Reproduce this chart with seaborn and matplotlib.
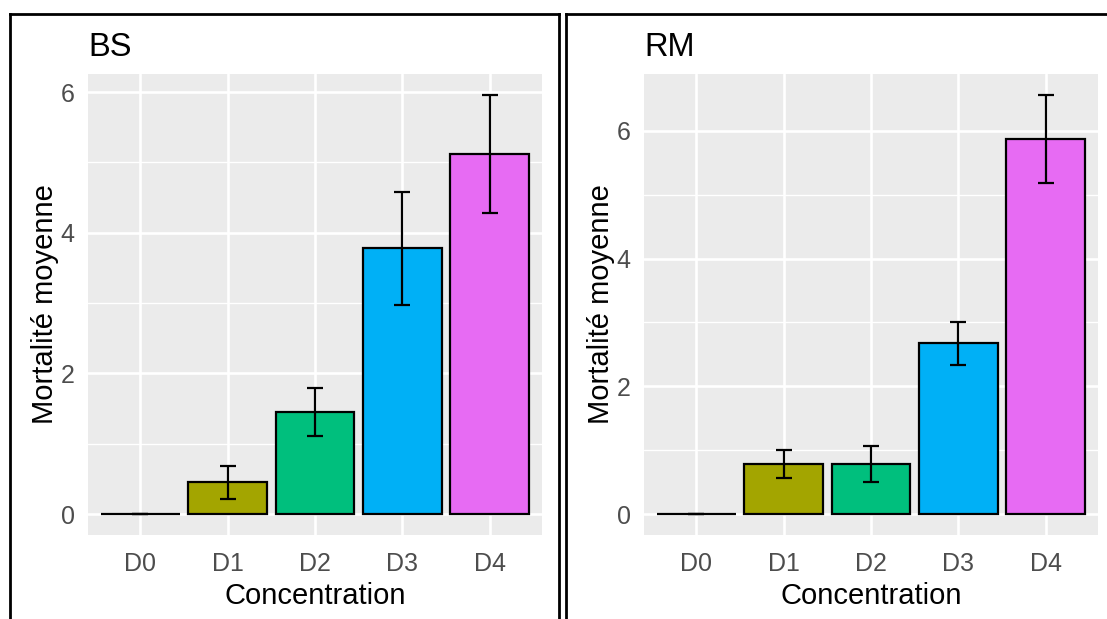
import numpy as np
import pandas as pd
import matplotlib
matplotlib.use("Agg")
import matplotlib.pyplot as plt
from matplotlib.lines import Line2D
from matplotlib.ticker import FixedLocator
import seaborn as sns

# ---- data ----
concentrations = ["D0", "D1", "D2", "D3", "D4"]
bs_mean = [0.0, 0.45, 1.45, 3.78, 5.12]
bs_err = [0.0, 0.23, 0.34, 0.80, 0.84]
rm_mean = [0.0, 0.78, 0.78, 2.67, 5.87]
rm_err = [0.0, 0.22, 0.28, 0.34, 0.69]
panel_titles = ["BS", "RM"]
y_major = [0, 2, 4, 6]
y_minor = [1, 3, 5]
colors = ["#F8766D", "#A3A500", "#00BF7D", "#00B0F6", "#E76BF3"]
x_label = "Concentration"
y_label = "Mortalité moyenne"

sns.set_style("darkgrid", rc={"axes.facecolor": "#EBEBEB", "grid.color": "white"})
plt.rcParams["font.family"] = ["Liberation Sans", "DejaVu Sans"]

W, H = 1107, 619
fig = plt.figure(figsize=(W / 100, H / 100), dpi=100)
fig.patch.set_facecolor("white")

ax_left = fig.add_axes([88 / W, 1 - 535 / H, 454 / W, 461 / H])
ax_right = fig.add_axes([644 / W, 1 - 535 / H, 454 / W, 461 / H])


def draw(ax, means, errs, title):
    df = pd.DataFrame({"Concentration": concentrations, "mean": means, "err": errs})
    ax.set_axisbelow(True)
    sns.barplot(data=df, x="Concentration", y="mean", hue="Concentration",
                order=concentrations, hue_order=concentrations, palette=colors,
                legend=False, errorbar=None, width=0.9, edgecolor="black",
                linewidth=1.6, saturation=1, ax=ax, zorder=3)
    xpos = ax.get_xticks()
    ax.errorbar(x=xpos, y=df["mean"], yerr=df["err"], fmt="none", ecolor="black",
                elinewidth=1.6, capsize=6.1, capthick=1.6, zorder=4)
    top = max(m + e for m, e in zip(means, errs))
    ax.set_ylim(-0.05 * top, 1.05 * top)
    ax.set_xlim(-0.6, len(concentrations) - 0.4)
    ax.yaxis.set_major_locator(FixedLocator(y_major))
    ax.yaxis.set_minor_locator(FixedLocator(y_minor))
    ax.grid(True, which="major", color="white", linewidth=1.9)
    ax.grid(True, which="minor", axis="y", color="white", linewidth=1.0)
    ax.grid(False, which="minor", axis="x")
    ax.tick_params(axis="both", which="major", length=5, width=1.4,
                   color="#333333", labelcolor="#4D4D4D", labelsize=18)
    ax.tick_params(axis="x", which="major", pad=7.5)
    ax.tick_params(axis="y", which="major", pad=4.5)
    ax.tick_params(axis="both", which="minor", length=0)
    for s in ax.spines.values():
        s.set_visible(False)
    ax.set_xlabel(x_label, fontsize=21, color="black", labelpad=4)
    ax.set_ylabel(y_label, fontsize=21, color="black", labelpad=1)
    ax.set_title(title, loc="left", fontsize=23.5, color="black", pad=13)


draw(ax_left, bs_mean, bs_err, panel_titles[0])
draw(ax_right, rm_mean, rm_err, panel_titles[1])

# panel frames (screenshot borders)
lw = 2.0
def fline(xs, ys):
    fig.add_artist(Line2D([x / W for x in xs], [1 - y / H for y in ys],
                          color="black", linewidth=lw, transform=fig.transFigure,
                          solid_capstyle="projecting"))

fline([10, 10], [14, 640])
fline([559, 559], [14, 640])
fline([10, 559], [14, 14])
fline([566, 566], [14, 640])
fline([566, 1120], [14, 14])

fig.savefig("out.png", dpi=100, facecolor="white")
